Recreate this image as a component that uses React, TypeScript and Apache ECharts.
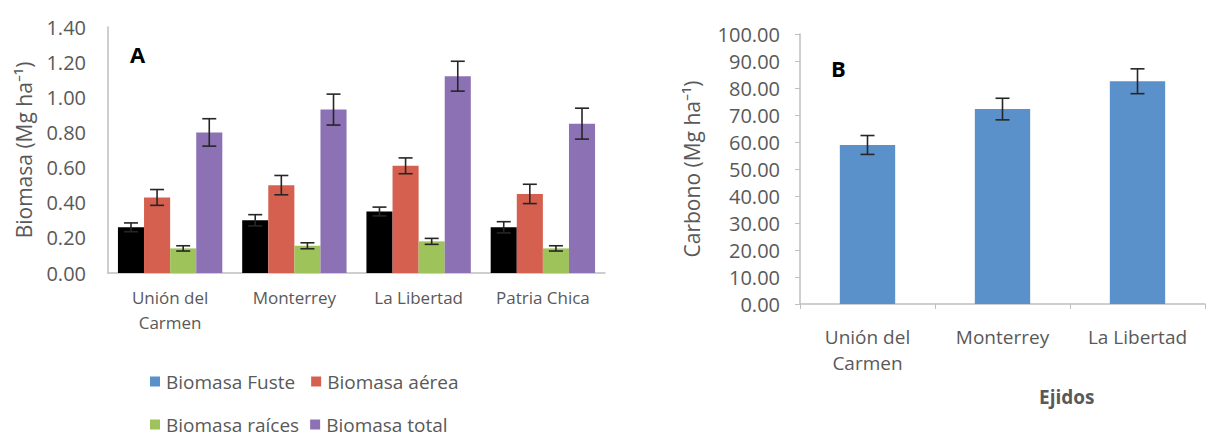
import React, { useEffect, useRef } from "react";
import * as echarts from "echarts";

const categoriesA = ["Unión del\nCarmen", "Monterrey", "La Libertad", "Patria Chica"];
const seriesNamesA = ["Biomasa Fuste", "Biomasa aérea", "Biomasa raíces", "Biomasa total"];
const fuste = [0.26, 0.30, 0.35, 0.26];
const fusteErr = [0.025, 0.032, 0.025, 0.032];
const aerea = [0.43, 0.50, 0.61, 0.45];
const aereaErr = [0.045, 0.055, 0.045, 0.055];
const raices = [0.14, 0.155, 0.18, 0.14];
const raicesErr = [0.015, 0.017, 0.017, 0.015];
const total = [0.80, 0.93, 1.12, 0.85];
const totalErr = [0.078, 0.088, 0.085, 0.088];
const yTicksA = { min: 0, max: 1.4, interval: 0.2 };

const categoriesB = ["Unión del\nCarmen", "Monterrey", "La Libertad"];
const carbono = [58.9, 72.2, 82.5];
const carbonoErr = [3.5, 4.0, 4.6];
const yTicksB = { min: 0, max: 100, interval: 10 };

const barColorsA = ["#000000", "#d6604f", "#9fc35b", "#8c72b4"];
const legendColorsA = ["#5b91cb", "#d6604f", "#9fc35b", "#8c72b4"];
const blue = "#5b91cb";
const grey = "#595959";
const axisGrey = "#bfbfbf";
const FONT = "'Open Sans'";

const GAP_A = 0.16;
const GAP_B = 0.59;

function errRender(gap: number) {
  return (params: any, api: any) => {
    const cat = api.value(0);
    const v = api.value(1);
    const e = api.value(2);
    const s = api.value(3);
    const n = api.value(4);
    const band = api.size([1, 0])[0];
    const bw = (band * (1 - gap)) / n;
    const c = api.coord([cat, v]);
    const x = c[0] + (s - (n - 1) / 2) * bw;
    const top = api.coord([cat, v + e])[1];
    const bot = api.coord([cat, v - e])[1];
    const hw = 7;
    const style = { stroke: "#262626", lineWidth: 1.6 };
    return {
      type: "group",
      children: [
        { type: "line", shape: { x1: x, y1: top, x2: x, y2: bot }, style },
        { type: "line", shape: { x1: x - hw, y1: top, x2: x + hw, y2: top }, style },
        { type: "line", shape: { x1: x - hw, y1: bot, x2: x + hw, y2: bot }, style },
      ],
    };
  };
}

export default function App() {
  const ref = useRef<HTMLDivElement>(null);
  useEffect(() => {
    if (!ref.current) return;
    const chart = echarts.init(ref.current, null, { renderer: "svg" });
    const valsA = [fuste, aerea, raices, total];
    const errsA = [fusteErr, aereaErr, raicesErr, totalErr];
    const errDataA: any[] = [];
    valsA.forEach((arr, s) =>
      arr.forEach((v, i) => errDataA.push([i, v, errsA[s][i], s, valsA.length]))
    );
    const errDataB = carbono.map((v, i) => [i, v, carbonoErr[i], 0, 1]);

    const labelStyle = { color: grey, fontFamily: FONT, fontSize: 19 };

    const option: any = {
      animation: false,
      textStyle: { fontFamily: FONT },
      grid: [
        { left: 108, top: 27, width: 497, height: 246 },
        { left: 800, top: 34, width: 405, height: 270 },
      ],
      legend: [
        {
          left: 145,
          top: 367,
          itemWidth: 10,
          itemHeight: 10,
          icon: "rect",
          itemGap: 16,
          textStyle: { ...labelStyle, fontSize: 19, padding: [0, 0, 0, 1] },
          data: [
            { name: seriesNamesA[0], itemStyle: { color: legendColorsA[0] } },
            { name: seriesNamesA[1], itemStyle: { color: legendColorsA[1] } },
          ],
        },
        {
          left: 145,
          top: 410,
          itemWidth: 10,
          itemHeight: 10,
          icon: "rect",
          itemGap: 11,
          textStyle: { ...labelStyle, fontSize: 19, padding: [0, 0, 0, 1] },
          data: [
            { name: seriesNamesA[2], itemStyle: { color: legendColorsA[2] } },
            { name: seriesNamesA[3], itemStyle: { color: legendColorsA[3] } },
          ],
        },
      ],
      xAxis: [
        {
          type: "category",
          gridIndex: 0,
          data: categoriesA,
          axisLine: { lineStyle: { color: axisGrey, width: 1.5 } },
          axisTick: { show: false },
          axisLabel: { ...labelStyle, fontSize: 17, margin: 12, lineHeight: 25, interval: 0 },
        },
        {
          type: "category",
          gridIndex: 1,
          data: categoriesB,
          axisLine: { lineStyle: { color: axisGrey, width: 1.5 } },
          axisTick: { show: true, length: 5, lineStyle: { color: axisGrey } },
          axisLabel: { ...labelStyle, fontSize: 19, margin: 20, lineHeight: 26, interval: 0 },
        },
      ],
      yAxis: [
        {
          type: "value",
          gridIndex: 0,
          ...yTicksA,
          splitLine: { show: false },
          axisLine: { show: true, lineStyle: { color: axisGrey, width: 1.5 } },
          axisTick: { show: false },
          axisLabel: { ...labelStyle, fontSize: 20, margin: 22, formatter: (v: number) => v.toFixed(2) },
          name: "Biomasa (Mg ha⁻¹)",
          nameLocation: "middle",
          nameGap: 74,
          nameTextStyle: { ...labelStyle, fontSize: 21 },
        },
        {
          type: "value",
          gridIndex: 1,
          ...yTicksB,
          splitLine: { show: false },
          axisLine: { show: true, lineStyle: { color: axisGrey, width: 1.5 } },
          axisTick: { show: true, length: 5, lineStyle: { color: axisGrey } },
          axisLabel: { ...labelStyle, fontSize: 20, margin: 20, formatter: (v: number) => v.toFixed(2) },
          name: "Carbono (Mg ha⁻¹)",
          nameLocation: "middle",
          nameGap: 98,
          nameTextStyle: { ...labelStyle, fontSize: 21 },
        },
      ],
      graphic: [
        { type: "text", left: 130, top: 43, style: { text: "A", font: `bold 22px ${FONT}`, fill: "#000" } },
        { type: "text", left: 831, top: 57, style: { text: "B", font: `bold 22px ${FONT}`, fill: "#000" } },
        { type: "text", left: 1039, top: 387, style: { text: "Ejidos", font: `bold 19px ${FONT}`, fill: grey } },
      ],
      series: [
        ...valsA.map((arr, s) => ({
          type: "bar",
          name: seriesNamesA[s],
          xAxisIndex: 0,
          yAxisIndex: 0,
          data: arr,
          barGap: "0%",
          barCategoryGap: `${GAP_A * 100}%`,
          itemStyle: { color: barColorsA[s] },
        })),
        {
          type: "custom",
          xAxisIndex: 0,
          yAxisIndex: 0,
          z: 5,
          renderItem: errRender(GAP_A),
          encode: { x: 0, y: 1 },
          data: errDataA,
        },
        {
          type: "bar",
          name: "Carbono",
          xAxisIndex: 1,
          yAxisIndex: 1,
          data: carbono,
          barCategoryGap: `${GAP_B * 100}%`,
          itemStyle: { color: blue },
        },
        {
          type: "custom",
          xAxisIndex: 1,
          yAxisIndex: 1,
          z: 5,
          renderItem: errRender(GAP_B),
          encode: { x: 0, y: 1 },
          data: errDataB,
        },
      ],
    };
    chart.setOption(option);
    return () => chart.dispose();
  }, []);
  return (
    <div
      ref={ref}
      style={{ position: "fixed", left: 0, top: 0, width: 1209, height: 441, background: "#fff" }}
    />
  );
}
